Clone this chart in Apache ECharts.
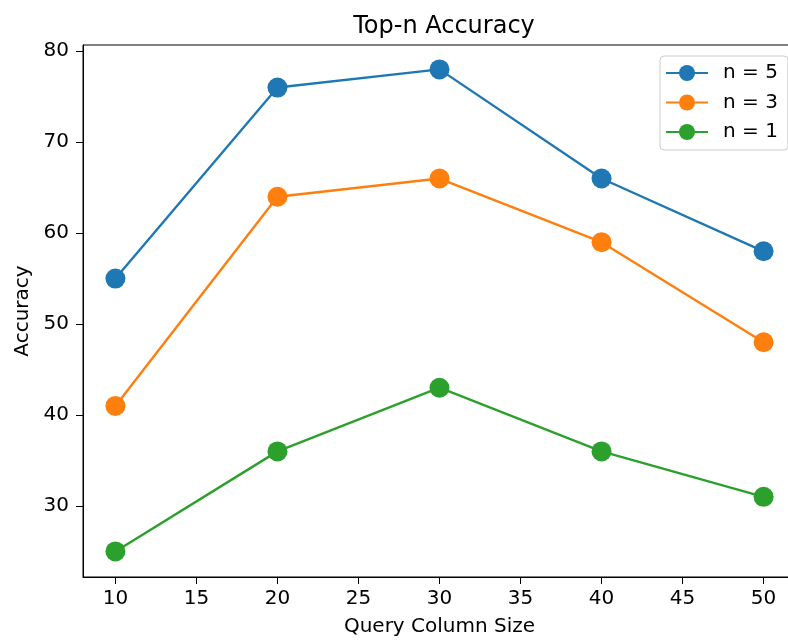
<!DOCTYPE html>
<html>
<head>
<meta charset="utf-8">
<script src="https://cdn.jsdelivr.net/npm/echarts@6/dist/echarts.min.js"></script>
<style>
  html, body { margin: 0; padding: 0; background: #fff; overflow: hidden; }
  #chart { width: 788px; height: 641px; }
</style>
</head>
<body>
<div id="chart"></div>
<script>
// Query column sizes on the x axis
const columnSizes = [10, 20, 30, 40, 50];
// Accuracy (%) for each top-n setting
const top5 = [55, 76, 78, 66, 58];
const top3 = [41, 64, 66, 59, 48];
const top1 = [25, 36, 43, 36, 31];
// Tick positions
const xTicks = [10, 15, 20, 25, 30, 35, 40, 45, 50];
const yTicks = [30, 40, 50, 60, 70, 80];

const seriesDefs = [
  { name: 'n = 5', values: top5, color: '#1f77b4' },
  { name: 'n = 3', values: top3, color: '#ff7f0e' },
  { name: 'n = 1', values: top1, color: '#2ca02c' }
];

const font = 'DejaVu Sans';
const X_MIN = 8, X_MAX = 52;
const Y_MIN = 22.19, Y_MAX = 80.68;

const chart = echarts.init(document.getElementById('chart'), null, { renderer: 'canvas' });

chart.setOption({
  animation: false,
  backgroundColor: '#ffffff',
  textStyle: { fontFamily: font, color: '#000' },
  title: {
    text: 'Top-n Accuracy',
    left: 439, top: 9, textAlign: 'center',
    textStyle: { fontFamily: font, fontSize: 24, lineHeight: 26, fontWeight: 'normal', color: '#000' }
  },
  // framed plot area; it runs slightly past the right edge of the canvas
  grid: {
    left: 83, top: 45, width: 713, height: 532,
    show: true, borderColor: '#000', borderWidth: 1, backgroundColor: 'transparent',
    containLabel: false, outerBoundsMode: 'none'
  },
  legend: {
    orient: 'vertical',
    left: 660, top: 56,
    padding: [7, 10, 8, 5],
    itemWidth: 42, itemHeight: 20, itemGap: 9.5,
    backgroundColor: 'rgba(255,255,255,0.8)',
    borderColor: '#cccccc', borderWidth: 1, borderRadius: 4,
    textStyle: { fontFamily: font, fontSize: 20, lineHeight: 20, color: '#000', padding: [0, 0, 0, 10] },
    data: seriesDefs.map(s => s.name)
  },
  xAxis: {
    type: 'value', min: X_MIN, max: X_MAX,
    name: 'Query Column Size', nameLocation: 'middle', nameGap: 40,
    nameTextStyle: { fontFamily: font, fontSize: 20, color: '#000' },
    axisLine: { show: true, onZero: false, lineStyle: { color: '#000', width: 1 } },
    axisTick: { show: true, length: 7, lineStyle: { color: '#000' }, customValues: xTicks },
    axisLabel: { fontFamily: font, fontSize: 20, color: '#000', margin: 12, customValues: xTicks },
    splitLine: { show: false }
  },
  yAxis: {
    type: 'value', min: Y_MIN, max: Y_MAX,
    name: 'Accuracy', nameLocation: 'middle', nameGap: 48, nameRotate: 90,
    nameTextStyle: { fontFamily: font, fontSize: 20, color: '#000' },
    axisLine: { show: true, onZero: false, lineStyle: { color: '#000', width: 1 } },
    axisTick: { show: true, length: 7, lineStyle: { color: '#000' }, customValues: yTicks },
    axisLabel: { fontFamily: font, fontSize: 20, color: '#000', margin: 14, customValues: yTicks },
    splitLine: { show: false }
  },
  series: seriesDefs.map(s => ({
    name: s.name,
    type: 'line',
    data: columnSizes.map((x, i) => [x, s.values[i]]),
    symbol: 'circle',
    symbolSize: 20,
    lineStyle: { color: s.color, width: 2.4 },
    itemStyle: { color: s.color },
    emphasis: { disabled: true }
  }))
});
</script>
</body>
</html>
